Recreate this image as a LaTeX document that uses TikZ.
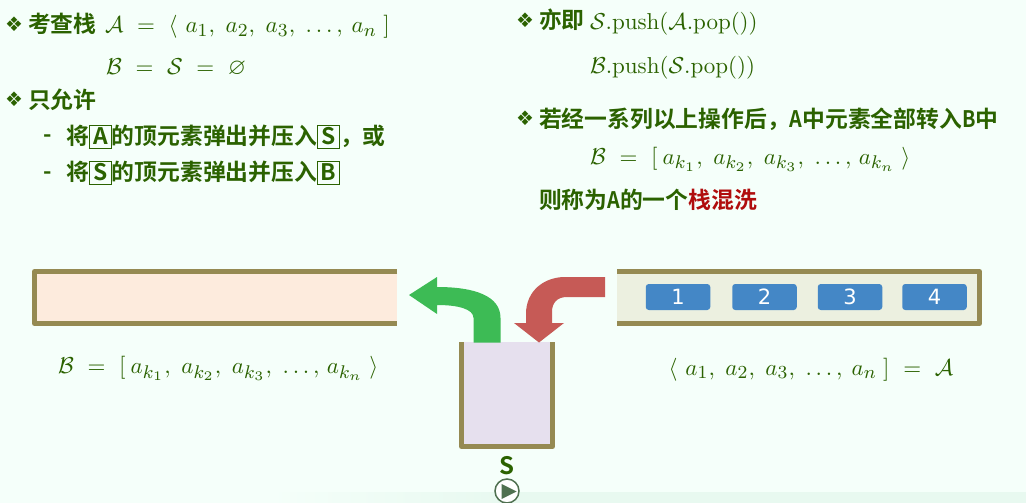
\documentclass[tikz,border=0pt]{standalone}
\usepackage{fix-cm}
\usepackage[no-math]{fontspec}
\usepackage{amsmath,amssymb,graphicx}
\DeclareMathSizes{10}{10}{8}{5.7}
\newfontfamily\cjk{Noto Sans CJK SC}[BoldFont={Noto Sans CJK SC Bold}]
\newfontfamily\dejavu{DejaVu Sans}
\definecolor{bgc}{HTML}{F5FFFA}
\definecolor{strip}{HTML}{E8F9F0}
\definecolor{txt}{HTML}{2B6200}
\definecolor{hot}{HTML}{B00D0D}
\definecolor{frame}{HTML}{958A52}
\definecolor{bfill}{HTML}{FDEBDD}
\definecolor{afill}{HTML}{ECF0E0}
\definecolor{sfill}{HTML}{E6E0EE}
\definecolor{blk}{HTML}{4487C6}
\definecolor{garrow}{HTML}{3DBB55}
\definecolor{rarrow}{HTML}{C65A56}
\definecolor{playc}{HTML}{4F7050}
\tikzset{
  head/.style={anchor=base west,inner sep=0pt,outer sep=0pt,text=txt,font=\fontsize{22.8}{24}\selectfont\cjk\bfseries},
  mth/.style={anchor=base west,inner sep=0pt,outer sep=0pt,text=txt,font=\fontsize{10}{12}\selectfont,scale=2.3,transform shape},
  bullet/.style={anchor=center,inner sep=0pt,text=txt,font=\fontsize{20}{20}\selectfont\dejavu},
  well/.style={line width=5pt,draw=frame,line join=round},
  blockn/.style={draw=none,fill=blk,rounded corners=3pt,minimum width=64.5pt,minimum height=26pt,inner sep=0pt,text=white,font=\fontsize{21}{22}\selectfont\dejavu},
}
\newcommand{\bx}[1]{{\setlength{\fboxsep}{0pt}\setlength{\fboxrule}{0.9pt}\raisebox{-3.5pt}{\fcolorbox{txt}{bgc}{\makebox[21.3pt]{\rule[0pt]{0pt}{22pt}\raisebox{3.5pt}{\textcolor{txt}{#1}}}}}}}
\newcommand{\na}[1]{\scalebox{.87}[1]{#1}}
\newcommand{\sqa}{\;\kern.4pt}
\newcommand{\sepa}{\;\kern.15pt}
\newcommand{\sepalast}{\;\kern-.5pt}
\newcommand{\sepk}{\;\kern.2pt}
\newcommand{\sepklast}{\;\kern-1.3pt}
\newcommand{\opn}{\;\kern.7pt}
\newcommand{\opk}{\;\kern-.5pt}
\begin{document}
\begin{tikzpicture}[x=1pt,y=-1pt]
\useasboundingbox (0,0) rectangle (1026,503);
\fill[bgc] (0,0) rectangle (1026,503);
\shade[left color=bgc,right color=strip] (270,492) rectangle (500,503);
\fill[strip] (500,492) rectangle (1026,503);
% left text
\node[bullet] (d1) at (14,24) {❖};
\node[head] (t1) at (28,33) {考查栈};
\node[mth] (m1) at (105,33) {$\mathcal{A}\sqa=\sqa\langle\opn a_1,\sepa a_2,\sepa a_3,\sepa\ldots,\sepalast a_n\;]$};
\node[mth] (m2) at (106,75) {$\mathcal{B}\sqa=\sqa\mathcal{S}\sqa=\sqa\varnothing$};
\node[bullet] (d2) at (14,99) {❖};
\node[head] (t2) at (28,108) {只允许};
\node[head] (da) at (43,142.5) {-};
\node[head] (l1) at (66,144) {将\bx{A}的顶元素弹出并压入\bx{S}，或};
\node[head] (db) at (43,179) {-};
\node[head] (l2) at (66,180) {将\bx{S}的顶元素弹出并压入\bx{B}};
% right text
\node[bullet] (d3) at (525,20) {❖};
\node[head] (t3) at (539,29) {亦即};
\node[mth] (m3) at (590,30) {$\mathcal{S}.\mathrm{push}(\mathcal{A}.\mathrm{pop}())$};
\node[mth] (m4) at (590,74) {$\mathcal{B}.\mathrm{push}(\mathcal{S}.\mathrm{pop}())$};
\node[bullet] (d4) at (525,118) {❖};
\node[head] (t4) at (539,127) {若经一系列以上操作后，\na{A}中元素全部转入\na{B}中};
\node[mth] (m5) at (590,164) {$\mathcal{B}\sqa=\sqa[\opk a_{k_1},\sepk a_{k_2},\sepk a_{k_3},\sepk\ldots,\sepklast a_{k_n}\;\rangle$};
\node[head] (t5) at (539,208.5) {则称为\na{A}的一个\textcolor{hot}{栈混洗}};
% bars
\fill[bfill] (34.5,271.5) rectangle (397,323.5);
\draw[well] (397,271.5) -- (34.5,271.5) -- (34.5,323.5) -- (397,323.5);
\fill[afill] (617,271.5) rectangle (979.5,323.5);
\draw[well] (617,271.5) -- (979.5,271.5) -- (979.5,323.5) -- (617,323.5);
\node[blockn] (b1) at (678,297) {1};
\node[blockn] (b2) at (764.5,297) {2};
\node[blockn] (b3) at (850,297) {3};
\node[blockn] (b4) at (934.5,297) {4};
% stack
\fill[sfill] (462,342) rectangle (552.5,446);
\draw[well] (461.5,342) -- (461.5,446.5) -- (552.5,446.5) -- (552.5,342);
% arrows
\fill[garrow] (409,295) -- (437,277) -- (437,287)
  .. controls (475,287) and (500.5,296) .. (500.5,318)
  -- (500.5,342.5) -- (473.5,342.5) -- (473.5,318)
  .. controls (473.5,309) and (458,305) .. (437,305)
  -- (437,314) -- cycle;
\fill[rarrow] (605,277) -- (605,297) -- (567,297)
  .. controls (557,297) and (552,303) .. (552,312)
  -- (552,323) -- (564,323) -- (539,342.5) -- (514,323) -- (526,323) -- (526,314)
  .. controls (526,290) and (545,277) .. (565,277) -- cycle;
% labels
\node[mth] (lb) at (58,373.5) {$\mathcal{B}\sqa=\sqa[\opk a_{k_1},\sepk a_{k_2},\sepk a_{k_3},\sepk\ldots,\sepklast a_{k_n}\;\rangle$};
\node[mth] (la) at (668.5,375) {$\langle\opn a_1,\sepa a_2,\sepa a_3,\sepa\ldots,\sepalast a_n\;]\sqa=\sqa\mathcal{A}$};
\node[head,anchor=center,font=\fontsize{24}{24}\selectfont\cjk\bfseries] (sl) at (507,466) {S};
% play
\begin{scope}
\clip (0,0) rectangle (1026,503);
\node[circle,draw=playc,line width=1.5pt,fill=white,minimum size=24pt,inner sep=0pt] (play) at (507,491) {};
\fill[playc] (501.7,484) -- (501.7,499) -- (516.7,491.5) -- cycle;
\end{scope}
\end{tikzpicture}
\end{document}
